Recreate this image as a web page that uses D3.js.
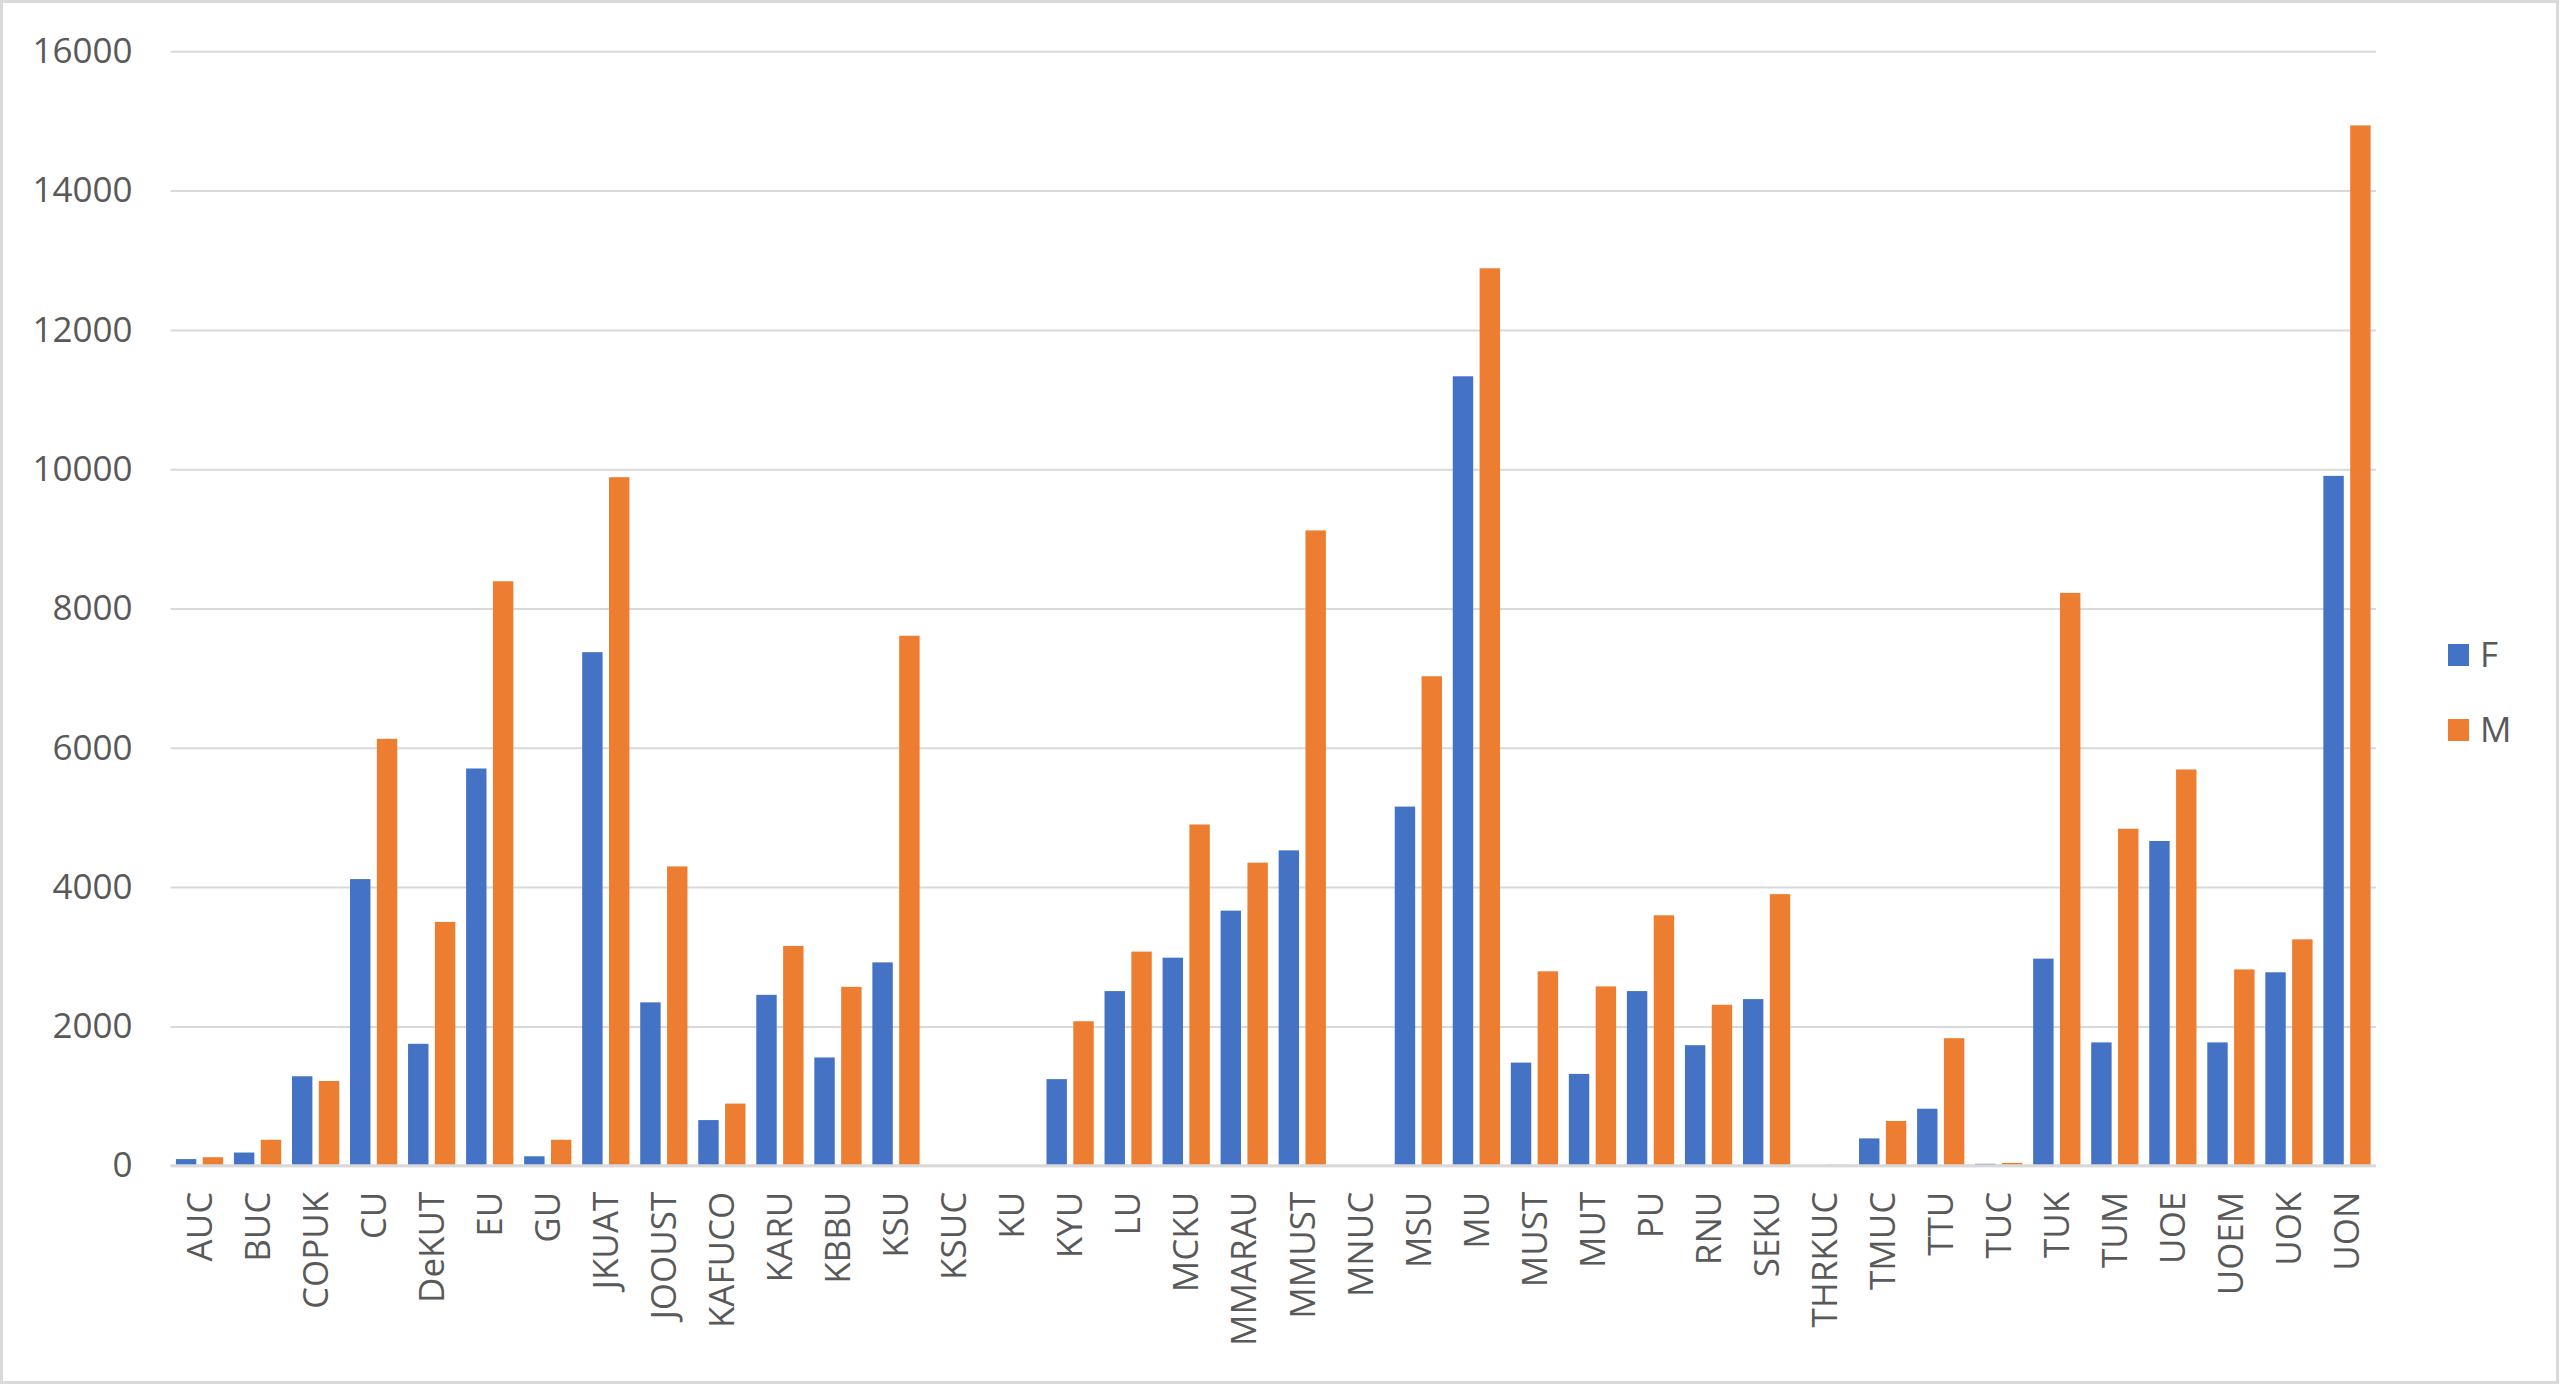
<!DOCTYPE html>
<html><head><meta charset="utf-8">
<script src="https://cdn.jsdelivr.net/npm/d3@7"></script>
<style>html,body{margin:0;padding:0;background:#fff;}svg{display:block;}</style>
</head><body>
<script>
const categories = ["AUC","BUC","COPUK","CU","DeKUT","EU","GU","JKUAT","JOOUST","KAFUCO","KARU","KBBU","KSU","KSUC","KU","KYU","LU","MCKU","MMARAU","MMUST","MNUC","MSU","MU","MUST","MUT","PU","RNU","SEKU","THRKUC","TMUC","TTU","TUC","TUK","TUM","UOE","UOEM","UOK","UON"];
const femaleValues = [95,189,1284,4115,1750,5703,135,7373,2345,655,2453,1554,2919,0,0,1243,2507,2987,3662,4527,0,5156,11334,1480,1318,2507,1730,2392,0,392,818,27,2973,1770,4662,1770,2777,9904];
const maleValues = [122,372,1216,6129,3500,8391,372,9885,4297,892,3155,2568,7609,0,0,2074,3074,4899,4351,9121,0,7027,12885,2791,2574,3595,2311,3899,15,642,1831,40,8224,4838,5689,2818,3250,14936];
const seriesNames = ["F","M"];
const seriesColors = ["#4472C4","#ED7D31"];
const yTicks = [0,2000,4000,6000,8000,10000,12000,14000,16000];

const W = 2560, H = 1386;
const svg = d3.select("body").append("svg").attr("width", W).attr("height", H);
svg.append("rect").attr("x",1.5).attr("y",1.5).attr("width",W-4).attr("height",H-5)
  .attr("fill","#fff").attr("stroke","#d9d9d9").attr("stroke-width",3);

const plotLeft = 170.5, plotRight = 2376, plotTop = 51.3, plotBottom = 1165.7;
const x = d3.scaleBand().domain(categories).range([plotLeft, plotRight]).paddingInner(0).paddingOuter(0);
const bw = x.bandwidth();
const xs = d3.scaleBand().domain(seriesNames).range([bw*0.093, bw*0.907]).paddingInner(0.239).paddingOuter(0);
const y = d3.scaleLinear().domain([0,16000]).range([plotBottom, plotTop]);
const font = "'Open Sans', 'Noto Sans', sans-serif";

// gridlines
const gAxis = svg.append("g").attr("transform", `translate(${plotLeft},0)`)
  .call(d3.axisLeft(y).tickValues(yTicks).tickSize(-(plotRight-plotLeft)).tickPadding(38).tickFormat(d3.format("d")));
gAxis.select(".domain").remove();
gAxis.selectAll(".tick line").attr("stroke","#d9d9d9").attr("stroke-width",2);
gAxis.selectAll(".tick text").attr("fill","#595959").style("font-family",font).style("font-size","35px");

// bars
const data = categories.map((c,i)=>({c, F: femaleValues[i], M: maleValues[i]}));
const groups = svg.append("g").selectAll("g").data(data).join("g")
  .attr("transform", d=>`translate(${x(d.c)},0)`);
groups.selectAll("rect").data(d=>seriesNames.map((s,j)=>({s, v:d[s], color: seriesColors[j]}))).join("rect")
  .attr("x", d=>xs(d.s)).attr("width", xs.bandwidth())
  .attr("y", d=>y(d.v)).attr("height", d=>plotBottom - y(d.v))
  .attr("fill", d=>d.color);

// baseline
svg.append("line").attr("x1",plotLeft).attr("x2",plotRight).attr("y1",plotBottom).attr("y2",plotBottom)
  .attr("stroke","#d9d9d9").attr("stroke-width",3);

// x axis labels
const gx = svg.append("g").attr("transform", `translate(0,${plotBottom})`)
  .call(d3.axisBottom(x).tickSize(0).tickPadding(0));
gx.select(".domain").remove();
gx.selectAll(".tick text")
  .attr("transform","translate(0,26) rotate(-90)")
  .attr("x",0).attr("y",0).attr("dy","0.35em")
  .style("text-anchor","end")
  .attr("fill","#595959").style("font-family",font).style("font-size","35px");

// legend
const legend = svg.append("g");
const legY = [655, 730];
seriesNames.forEach((s,j)=>{
  legend.append("rect").attr("x",2448).attr("y",legY[j]-11).attr("width",21).attr("height",22).attr("fill",seriesColors[j]);
  legend.append("text").attr("x",2480).attr("y",legY[j]).attr("dy","0.35em")
    .attr("fill","#595959").style("font-family",font).style("font-size","35px").text(s);
});
</script>
</body></html>
